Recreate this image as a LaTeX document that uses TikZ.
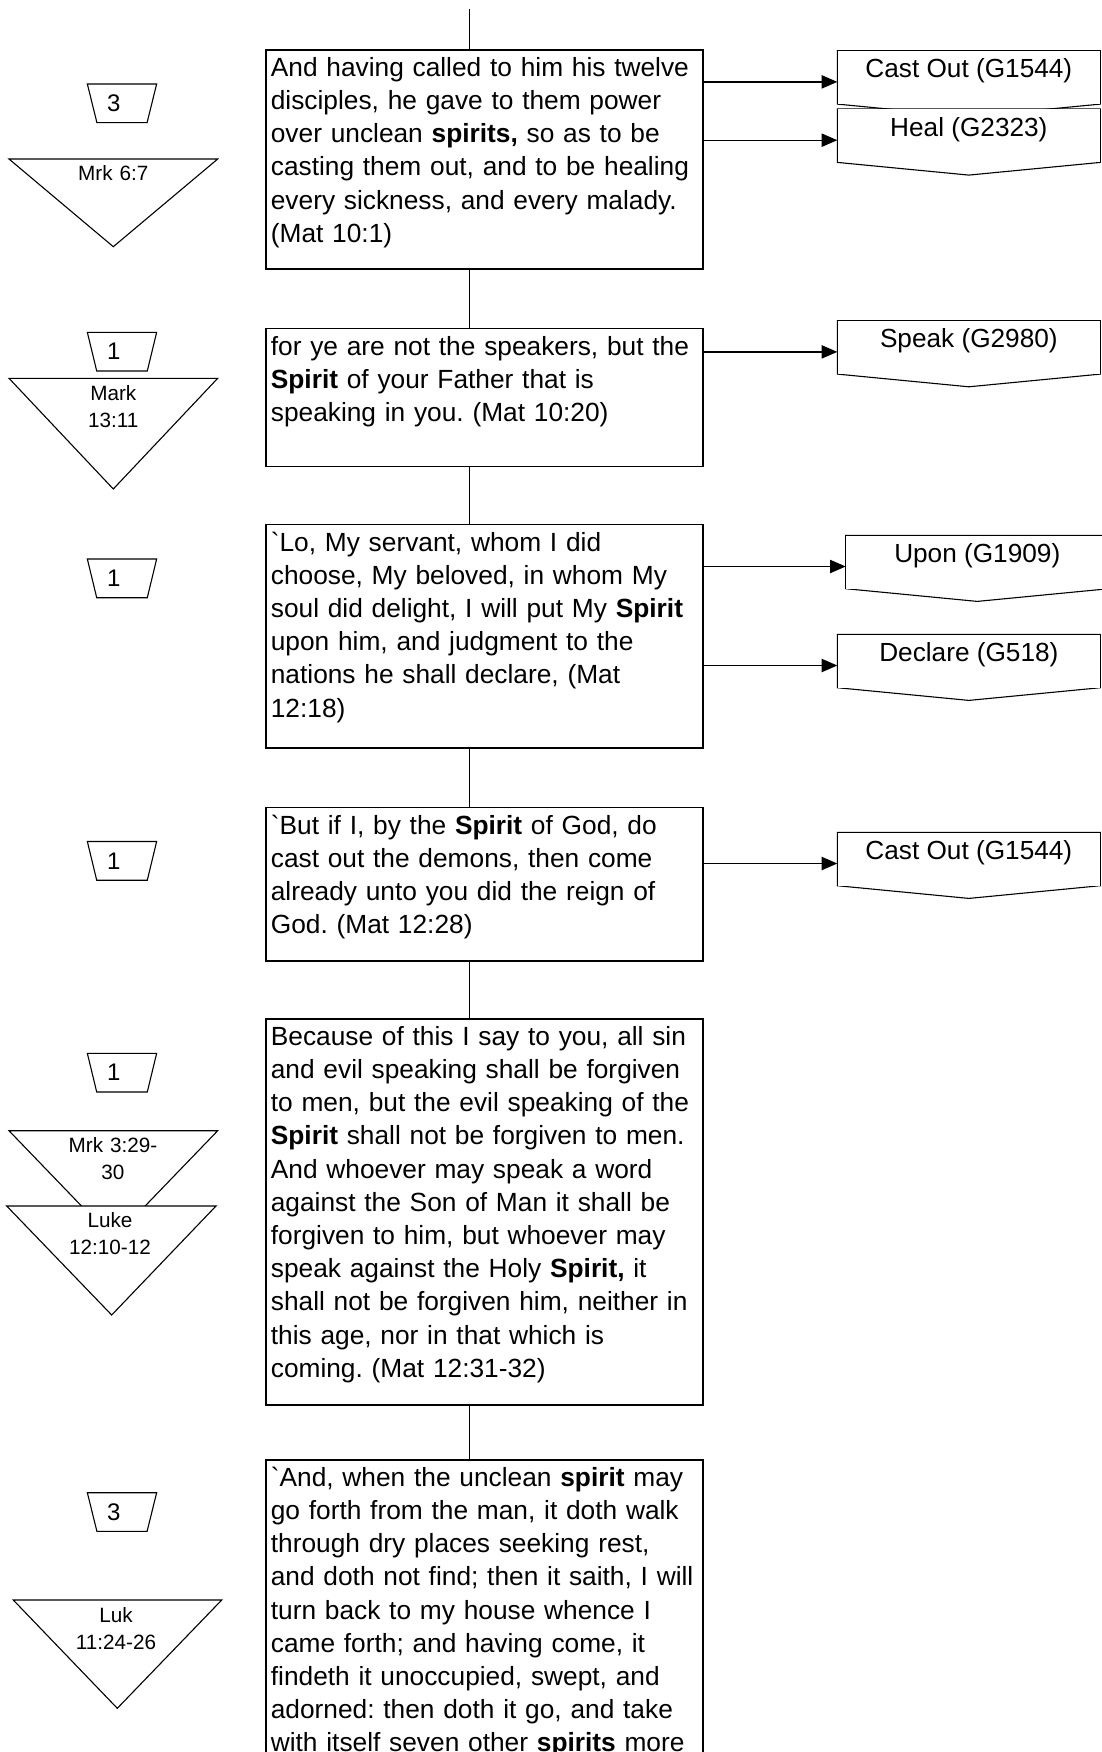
\documentclass[tikz,border=0pt]{standalone}
\usepackage{fontspec}
\setmainfont{Liberation Sans}
\usetikzlibrary{shapes.geometric,arrows.meta}
\frenchspacing

\tikzset{
  verse/.style={draw, line width=1.6pt, anchor=north, inner sep=5pt,
    text width=427.3pt, align=left, text height=21.5pt,
    font=\fontsize{26.3pt}{33.2pt}\selectfont},
  count/.style={trapezium, draw, line width=1.1pt, shape border rotate=180,
    trapezium left angle=71.4, trapezium right angle=71.4,
    trapezium stretches=true, minimum width=69.4pt, minimum height=38.7pt,
    inner sep=0pt, text width=30pt, align=left,
    font=\fontsize{24pt}{28pt}\selectfont},
  ref/.style={anchor=base, text width=110pt, align=center, inner sep=0pt,
    font=\fontsize{20.7pt}{27.3pt}\selectfont},
  tri/.style={draw, line width=1.1pt, fill=white},
  offpage/.style={anchor=north west, fill=white, inner sep=0pt,
    minimum width=262.7pt, text height=27pt, text depth=26pt,
    font=\fontsize{26.2pt}{30pt}\selectfont,
    append after command={\pgfextra{
      \draw[line width=1.1pt] (\tikzlastnode.north west) -- (\tikzlastnode.north east)
        -- (\tikzlastnode.south east) -- ([yshift=-12.7pt]\tikzlastnode.south)
        -- (\tikzlastnode.south west) -- cycle;
      \coordinate (\tikzlastnode-in) at ([yshift=-4.5pt]\tikzlastnode.west);}}},
  link/.style={line width=1.4pt},
  flow/.style={line width=1.3pt, -{Triangle[length=15.7pt,width=13.3pt]}}
}

\begin{document}
\begin{tikzpicture}[x=1pt, y=-1pt]
\useasboundingbox (0,0) rectangle (1102,1752);
\clip (0,0) rectangle (1102,1752);

% verses
\node[verse, text depth=187.8pt] (b1) at (484.5,49) {And having called to him his twelve\\
  disciples, he gave to them power\\
  over unclean \textbf{spirits,} so as to be\\
  casting them out, and to be healing\\
  every sickness, and every malady.\\
  (Mat 10:1)};
\node[verse, text depth=106.5pt] (b2) at (484.5,327.7) {for ye are not the speakers, but the\\
  \textbf{Spirit} of your Father that is\\
  speaking in you. (Mat 10:20)};
\node[verse, text depth=191.7pt] (b3) at (484.5,523.8) {\textasciigrave Lo, My servant, whom I did\\
  choose, My beloved, in whom My\\
  soul did delight, I will put My \textbf{Spirit}\\
  upon him, and judgment to the\\
  nations he shall declare, (Mat\\
  12:18)};
\node[verse, text depth=121.9pt] (b4) at (484.5,806.8) {\textasciigrave But if I, by the \textbf{Spirit} of God, do\\
  cast out the demons, then come\\
  already unto you did the reign of\\
  God. (Mat 12:28)};
\node[verse, text depth=354.5pt] (b5) at (484.5,1018) {Because of this I say to you, all sin\\
  and evil speaking shall be forgiven\\
  to men, but the evil speaking of the\\
  \textbf{Spirit} shall not be forgiven to men.\\
  And whoever may speak a word\\
  against the Son of Man it shall be\\
  forgiven to him, but whoever may\\
  speak against the Holy \textbf{Spirit,} it\\
  shall not be forgiven him, neither in\\
  this age, nor in that which is\\
  coming. (Mat 12:31-32)};
\node[verse, text depth=368.5pt] (b6) at (484.5,1459) {\textasciigrave And, when the unclean \textbf{spirit} may\\
  go forth from the man, it doth walk\\
  through dry places seeking rest,\\
  and doth not find; then it saith, I will\\
  turn back to my house whence I\\
  came forth; and having come, it\\
  findeth it unoccupied, swept, and\\
  adorned: then doth it go, and take\\
  with itself seven other \textbf{spirits} more};

\coordinate (top) at (469.5,9.3);
\draw[link] (top) -- (b1.north -| top);
\draw[link] (b1.south -| top) -- (b2.north -| top);
\draw[link] (b2.south -| top) -- (b3.north -| top);
\draw[link] (b3.south -| top) -- (b4.north -| top);
\draw[link] (b4.south -| top) -- (b5.north -| top);
\draw[link] (b5.south -| top) -- (b6.north -| top);

% counts
\node[count] (n1) at (122,103.35) {3};
\node[count] (n2) at (122,351.65) {1};
\node[count] (n3) at (122,578.35) {1};
\node[count] (n4) at (122,860.85) {1};
\node[count] (n5) at (122,1072.65) {1};
\node[count] (n6) at (122,1512.05) {3};

% parallel passages
\draw[tri] (9,159) -- (217.7,159) -- (113.3,246.7) -- cycle;
\node[ref] (r1) at (113.3,180.7) {Mrk 6:7};
\draw[tri] (9,378.3) -- (217.7,378.3) -- (113.3,489) -- cycle;
\node[ref] (r2) at (113.3,400.1) {Mark\\13:11};
\draw[tri] (9,1130.7) -- (217.7,1130.7) -- (113.3,1239) -- cycle;
\node[ref] (r3) at (113,1152.4) {Mrk 3:29-\\30};
\draw[tri] (6.7,1206) -- (216,1206) -- (111.7,1315) -- cycle;
\node[ref] (r4) at (110,1227.4) {Luke\\12:10-12};
\draw[tri] (13.3,1600) -- (221.7,1600) -- (117.3,1708.3) -- cycle;
\node[ref] (r5) at (116,1622.4) {Luk\\11:24-26};

% words
\node[offpage] (co1) at (837.3,50.7) {Cast Out (G1544)};
\node[offpage] (co2) at (837.3,109) {Heal (G2323)};
\node[offpage] (co3) at (837.3,320.7) {Speak (G2980)};
\node[offpage] (co4) at (845.7,535.3) {Upon (G1909)};
\node[offpage] (co5) at (837.3,634.3) {Declare (G518)};
\node[offpage] (co6) at (837.3,832.3) {Cast Out (G1544)};

\draw[flow] (b1.east |- co1-in) -- (co1-in);
\draw[flow] (b1.east |- co2-in) -- (co2-in);
\draw[flow] (b2.east |- co3-in) -- (co3-in);
\draw[flow] (b3.east |- co4-in) -- (co4-in);
\draw[flow] (b3.east |- co5-in) -- (co5-in);
\draw[flow] (b4.east |- co6-in) -- (co6-in);
\end{tikzpicture}
\end{document}
